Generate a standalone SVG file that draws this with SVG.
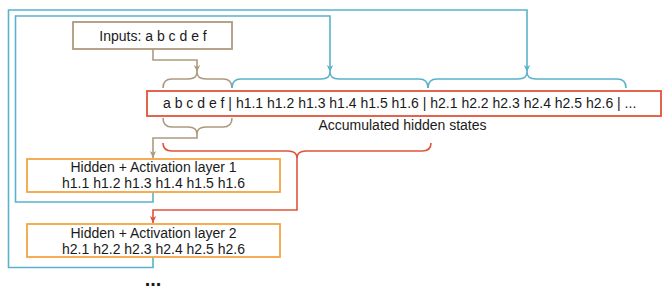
<svg xmlns="http://www.w3.org/2000/svg" width="664" height="294" viewBox="0 0 664 294">
<style>
text{font-family:"Liberation Sans",Arial,sans-serif;font-size:14px;fill:#1a1a1a}
.c{text-anchor:middle}
.br{fill:none;stroke:#ad9a7e;stroke-width:1.6}
.bl{fill:none;stroke:#5ab2cb;stroke-width:1.6}
.rd{fill:none;stroke:#e0533a;stroke-width:1.6}
.bx-in{fill:#fff;stroke:#ad9a7e;stroke-width:1.8}
.bx-acc{fill:#fff;stroke:#e0533a;stroke-width:1.8}
.bx-l{fill:#fff;stroke:#f5a442;stroke-width:1.8}
</style>
<defs>
<marker id="aBr" markerWidth="8" markerHeight="8" refX="7" refY="4" orient="auto" markerUnits="userSpaceOnUse"><path d="M0,0.8 L7,4 L0,7.2 L2,4 Z" fill="#ad9a7e"/></marker>
<marker id="aBl" markerWidth="8" markerHeight="8" refX="7" refY="4" orient="auto" markerUnits="userSpaceOnUse"><path d="M0,0.8 L7,4 L0,7.2 L2,4 Z" fill="#5ab2cb"/></marker>
<marker id="aRd" markerWidth="8" markerHeight="8" refX="7" refY="4" orient="auto" markerUnits="userSpaceOnUse"><path d="M0,0.8 L7,4 L0,7.2 L2,4 Z" fill="#e0533a"/></marker>
</defs>
<g id="connectors">
<path class="bl" d="M153,257 V267.5 H8.5 V10 H527 V72" marker-end="url(#aBl)"/>
<path class="bl" d="M153,192 V202 H15.5 V16 H330 V72" marker-end="url(#aBl)"/>
<path class="br" d="M153,49 V60 H197 V72" marker-end="url(#aBr)"/>
<path class="br" d="M163,88 Q163,79 172,79 H188 Q197,79 197,72 Q197,79 206,79 H223 Q232,79 232,88"/>
<path class="bl" d="M232,88 Q232,79 241,79 H321 Q330,79 330,72 Q330,79 339,79 H419 Q428,79 428,88"/>
<path class="bl" d="M428,88 Q428,79 437,79 H518 Q527,79 527,72 Q527,79 536,79 H617 Q626,79 626,88"/>
<path class="br" d="M163,118 Q163,127 172,127 H188 Q197,127 197,134 Q197,127 206,127 H223 Q232,127 232,118"/>
<path class="br" d="M197,134 V138 H153 V158" marker-end="url(#aBr)"/>
<path class="rd" d="M163,143 Q163,151 172,151 H288 Q297,151 297,158 Q297,151 306,151 H422 Q431,151 431,143"/>
<path class="rd" d="M297,158 V210 H153 V223" marker-end="url(#aRd)"/>
</g>
<g id="inputs">
<rect class="bx-in" x="73" y="22" width="159" height="27"/>
<text class="c" x="153" y="41">Inputs: a b c d e f</text>
</g>
<g id="accumulated">
<rect class="bx-acc" x="147" y="91" width="514" height="25"/>
<text x="163" y="108">a b c d e f | h1.1 h1.2 h1.3 h1.4 h1.5 h1.6 | h2.1 h2.2 h2.3 h2.4 h2.5 h2.6 | ...</text>
<text class="c" x="402.5" y="130">Accumulated hidden states</text>
</g>
<g id="layer1">
<rect class="bx-l" x="27" y="159" width="253" height="33"/>
<text class="c" x="153.5" y="172">Hidden + Activation layer 1</text>
<text class="c" x="153.5" y="188">h1.1 h1.2 h1.3 h1.4 h1.5 h1.6</text>
</g>
<g id="layer2">
<rect class="bx-l" x="27" y="224" width="253" height="33"/>
<text class="c" x="153.5" y="237.5">Hidden + Activation layer 2</text>
<text class="c" x="153.5" y="253.5">h2.1 h2.2 h2.3 h2.4 h2.5 h2.6</text>
</g>
<g id="more">
<text class="c" x="153" y="286" style="font-size:20px;font-weight:bold">...</text>
</g>
</svg>
